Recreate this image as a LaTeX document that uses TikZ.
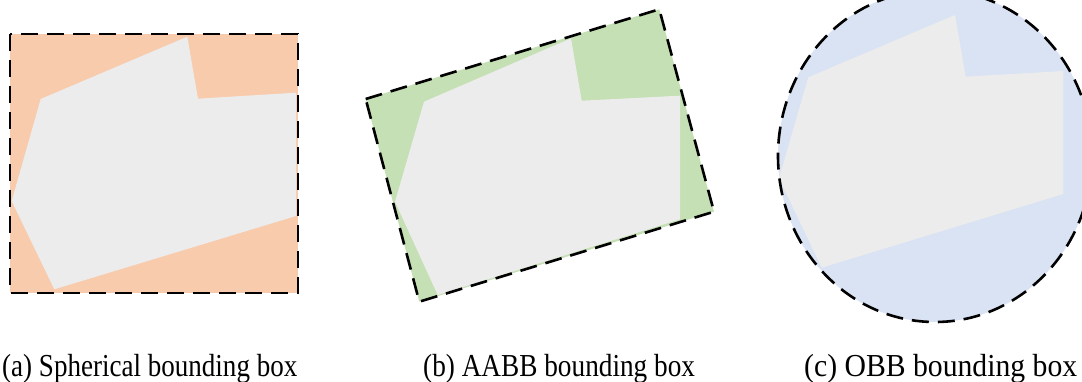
\documentclass[tikz,border=0pt]{standalone}
\usepackage{fontspec}
\setmainfont{Liberation Serif}
\definecolor{peach}{HTML}{F8CBAD}
\definecolor{sage}{HTML}{C5E0B4}
\definecolor{mist}{HTML}{DAE3F3}
\definecolor{shapegray}{HTML}{ECECEC}
\tikzset{
  bound/.style={draw=black, line width=2.6pt, dash pattern=on 17pt off 9pt},
  solid shape/.style={fill=shapegray, draw=none},
  caption/.style={anchor=base west, inner sep=0pt, font=\fontsize{32}{36}\selectfont}
}
\begin{document}
\begin{tikzpicture}[x=1pt, y=-1pt]
\useasboundingbox (0,0) rectangle (1082,382);
\begin{scope}
\clip (0,0) rectangle (1082,382);

% (a) sphere-style enclosure drawn as square
\fill[peach] (10,34) rectangle (298,293);
\fill[solid shape] (40.7,99) -- (187.3,36.7) -- (198,98.7) -- (296,92.7)
  -- (296,216) -- (54.3,289.3) -- (11.7,201) -- cycle;
\draw[bound] (10,34) rectangle (298,293);

% (b) axis-aligned box, tilted
\fill[sage] (365.7,99) -- (659.3,9.3) -- (714,211.7) -- (419.3,301.7) -- cycle;
\fill[solid shape] (424,101.7) -- (571,38.3) -- (581.7,100.7) -- (680,95.7)
  -- (680,219.3) -- (437.7,295) -- (395,201.7) -- cycle;
\draw[bound] (365.7,99) -- (659.3,9.3) -- (714,211.7) -- (419.3,301.7) -- cycle;

% (c) oriented enclosure as ellipse
\fill[mist] (935,156) ellipse [x radius=157, y radius=166];
\fill[solid shape] (808.3,77.3) -- (955,15) -- (965.7,76.7) -- (1063.3,71)
  -- (1063.3,194) -- (821.7,267.7) -- (779,178.3) -- cycle;
\draw[bound] (935,156) ellipse [x radius=157, y radius=166];
\end{scope}

% captions
\node[caption] (labA) at (2,376) {\scalebox{0.845}[1]{(a) Spherical bounding box}};
\node[caption] (labB) at (423,376) {\scalebox{0.852}[1]{(b) AABB bounding box}};
\node[caption] (labC) at (804,376) {\scalebox{0.928}[1]{(c) OBB bounding box}};
\end{tikzpicture}
\end{document}
